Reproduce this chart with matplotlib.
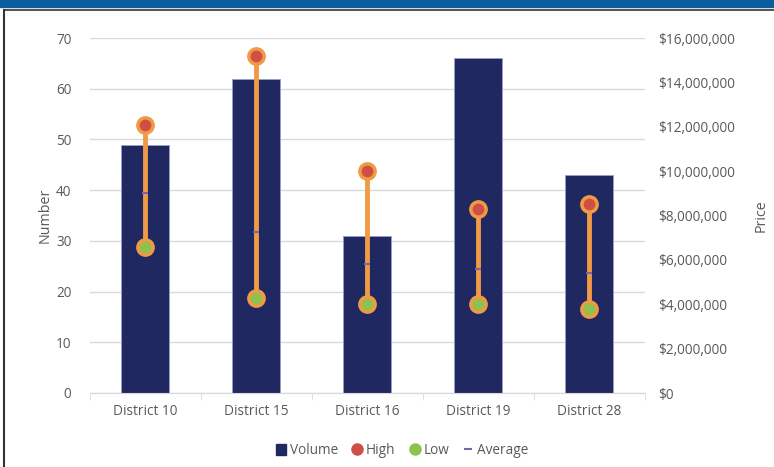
import matplotlib.pyplot as plt
import numpy as np
from matplotlib.lines import Line2D
from matplotlib.patches import Patch
from matplotlib.ticker import FuncFormatter, MultipleLocator

plt.rcParams["font.family"] = ["Open Sans", "DejaVu Sans"]

# data
districts = ["District 10", "District 15", "District 16", "District 19", "District 28"]
volume = [49, 62, 31, 66, 43]
price_high = [12.1e6, 15.2e6, 10.0e6, 8.3e6, 8.5e6]
price_low = [6.6e6, 4.3e6, 4.0e6, 4.0e6, 3.8e6]
price_avg = [9.0e6, 7.25e6, 5.8e6, 5.6e6, 5.4e6]

navy = "#1f2860"
orange = "#f09a45"
red = "#cf4f46"
green = "#8fc14e"
purple = "#7566b0"
text_grey = "#595959"
grid_grey = "#d9d9d9"
fs = 9.8

fig = plt.figure(figsize=(7.74, 4.67), dpi=100)

# header band and frame of the screenshot
fig.patches.append(plt.Rectangle((0, 1 - 7 / 467), 1, 7 / 467, transform=fig.transFigure,
                                 color="#0b5c9e", zorder=0))
fig.add_artist(Line2D([4 / 774, 1], [1 - 10 / 467] * 2, color="#333333", lw=1.2))
fig.add_artist(Line2D([4 / 774] * 2, [0, 1 - 10 / 467], color="#333333", lw=1.5))

ax = fig.add_axes([89.5 / 774, 1 - 393 / 467, 555 / 774, 355 / 467])
x = np.arange(len(districts))

ax.bar(x, volume, width=0.43, color=navy, edgecolor="#9a9cc8", linewidth=0.7, zorder=2)
ax.set_ylim(0, 70)
ax.set_xlim(-0.5, len(districts) - 0.5)
ax.yaxis.set_major_locator(MultipleLocator(10))
ax.grid(axis="y", color=grid_grey, linewidth=1, zorder=0)
ax.set_axisbelow(True)
ax.set_xticks(x)
ax.set_xticklabels(districts)
ax.set_xticks(np.arange(-0.5, len(districts)), minor=True)
ax.tick_params(axis="x", which="major", length=0, pad=8, labelsize=fs, labelcolor=text_grey)
ax.tick_params(axis="x", which="minor", length=5, color=grid_grey)
ax.tick_params(axis="y", length=0, pad=13, labelsize=fs, labelcolor=text_grey)
for side in ["top", "right", "left"]:
    ax.spines[side].set_visible(False)
ax.spines["bottom"].set_color(grid_grey)
ax.set_ylabel("Number", color=text_grey, fontsize=fs + 0.5, labelpad=2)

ax2 = ax.twinx()
ax2.set_ylim(0, 16e6)
ax2.yaxis.set_major_locator(MultipleLocator(2e6))
ax2.yaxis.set_major_formatter(FuncFormatter(lambda v, p: f"${v:,.0f}"))
ax2.tick_params(axis="y", length=0, pad=10, labelsize=fs, labelcolor=text_grey)
for side in ["top", "right", "left", "bottom"]:
    ax2.spines[side].set_visible(False)
ax2.set_ylabel("Price", color=text_grey, fontsize=fs + 0.5, labelpad=13)

for xi, lo, hi in zip(x, price_low, price_high):
    ax2.plot([xi, xi], [lo, hi], color=orange, lw=3.5, solid_capstyle="round", zorder=3)
ax2.plot(x, price_high, "o", color=red, markersize=11, markeredgecolor=orange,
         markeredgewidth=2.5, zorder=4)
ax2.plot(x, price_low, "o", color=green, markersize=11, markeredgecolor=orange,
         markeredgewidth=2.5, zorder=4)
ax2.plot(x, price_avg, "_", color=purple, markersize=5, markeredgewidth=1.5, zorder=5)

handles = [
    Patch(facecolor=navy, edgecolor=navy),
    Line2D([], [], marker="o", linestyle="none", color=red, markersize=8),
    Line2D([], [], marker="o", linestyle="none", color=green, markersize=8),
    Line2D([], [], marker="_", linestyle="none", color=purple, markersize=6, markeredgewidth=1.5),
]
fig.legend(handles, ["Volume", "High", "Low", "Average"], loc="center",
           bbox_to_anchor=(402 / 774, 1 - 451 / 467), ncol=4, frameon=False,
           fontsize=fs, labelcolor=text_grey, handlelength=0.8, handleheight=0.9,
           handletextpad=0.25, columnspacing=1.0)

fig.savefig("out.png", dpi=100)
